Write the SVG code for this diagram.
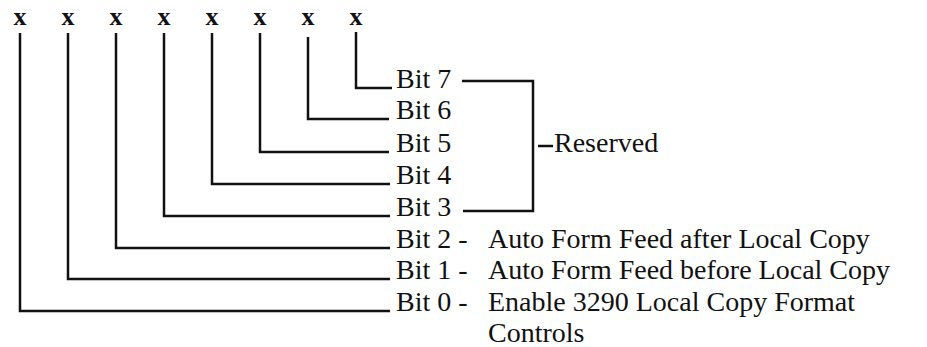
<svg xmlns="http://www.w3.org/2000/svg" width="927" height="347" viewBox="0 0 927 347">
<style>
.x{font-family:"Liberation Serif",serif;font-weight:bold;font-size:26px;fill:#111;text-anchor:middle}
.t{font-family:"Liberation Serif",serif;font-size:28px;fill:#111}
.c{fill:none;stroke:#111;stroke-width:2.5;stroke-linejoin:miter}
</style>
<rect width="927" height="347" fill="#fff"/>
<g id="header">
<text class="x" x="20" y="25">x</text>
<text class="x" x="68" y="25">x</text>
<text class="x" x="116" y="25">x</text>
<text class="x" x="164" y="25">x</text>
<text class="x" x="212" y="25">x</text>
<text class="x" x="260" y="25">x</text>
<text class="x" x="308" y="25">x</text>
<text class="x" x="356" y="25">x</text>
</g>
<g id="connectors">
<path class="c" d="M356 32 V88 H392"/>
<path class="c" d="M308 37 V119 H389"/>
<path class="c" d="M260 33 V152 H389"/>
<path class="c" d="M212 33 V184 H390"/>
<path class="c" d="M164 33 V216 H390"/>
<path class="c" d="M116 33 V248 H390"/>
<path class="c" d="M68 33 V279 H390"/>
<path class="c" d="M20 33 V311 H390"/>
<path class="c" d="M462 81 H533 V211 H463"/>
<path class="c" d="M538 146 H553"/>
</g>
<g id="bit7"><text class="t" x="396" y="88">Bit 7</text></g>
<g id="bit6"><text class="t" x="396" y="119">Bit 6</text></g>
<g id="bit5"><text class="t" x="396" y="152">Bit 5</text></g>
<g id="bit4"><text class="t" x="396" y="184">Bit 4</text></g>
<g id="bit3"><text class="t" x="396" y="216">Bit 3</text></g>
<g id="bit2"><text class="t" x="396" y="248">Bit 2 -</text><text class="t" x="488" y="248">Auto Form Feed after Local Copy</text></g>
<g id="bit1"><text class="t" x="396" y="279">Bit 1 -</text><text class="t" x="488" y="279">Auto Form Feed before Local Copy</text></g>
<g id="bit0"><text class="t" x="396" y="311">Bit 0 -</text><text class="t" x="488" y="311">Enable 3290 Local Copy Format</text><text class="t" x="488" y="342">Controls</text></g>
<g id="reserved"><text class="t" x="554" y="152">Reserved</text></g>
</svg>
